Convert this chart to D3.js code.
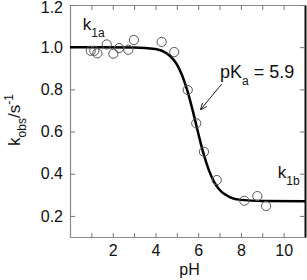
<!DOCTYPE html>
<html>
<head>
<meta charset="utf-8">
<script src="https://cdn.jsdelivr.net/npm/d3@7"></script>
<style>
body{margin:0;background:#fff;}
text{font-family:"Liberation Sans",Arial,sans-serif;fill:#111;}
</style>
</head>
<body>
<div class="content"></div>
<script>
const SVGWIDTH = 307;
const SVGHEIGHT = 280;
const MARGIN = {left:70,right:2,top:5,bottom:43};

// measured points (pH, kobs)
const pH_values = [0.97,1.14,1.28,1.72,2.03,2.30,2.73,2.99,4.29,4.88,5.51,5.91,6.27,6.87,8.16,8.77,9.18];
const kobs_values = [0.983,0.983,0.971,1.013,0.969,0.996,0.988,1.034,1.025,0.977,0.797,0.639,0.504,0.370,0.272,0.294,0.247];

// fitted titration curve
const fit_pH = [0,3,4,4.5,5,5.25,5.5,5.75,6,6.25,6.5,6.75,7,7.5,8,9,11];
const fit_kobs = [1.0,0.999,0.991,0.972,0.918,0.866,0.792,0.697,0.593,0.495,0.417,0.360,0.324,0.288,0.276,0.271,0.27];

const xTicks = [1,2,3,4,5,6,7,8,9,10];
const xLabels = [2,4,6,8,10];
const yTicks = [0.2,0.4,0.6,0.8,1.0,1.2];

let w = SVGWIDTH-MARGIN.left-MARGIN.right;
let h = SVGHEIGHT-MARGIN.top-MARGIN.bottom;

let svg = d3.select(".content").append("svg").attr("width",SVGWIDTH).attr("height",SVGHEIGHT);
let g = svg.append("g").attr("transform","translate("+MARGIN.left+","+MARGIN.top+")");

let x = d3.scaleLinear().domain([0,11]).range([0,w]);
let y = d3.scaleLinear().domain([0.1,1.2]).range([h,0]);

//axes, ticks pointing inwards
let axisB = g.append("g").attr("transform","translate(0,"+h+")")
    .call(d3.axisBottom(x).tickValues(xTicks).tickSizeInner(-4).tickSizeOuter(0).tickPadding(8)
        .tickFormat(d=>xLabels.includes(d)?d:""));
let axisT = g.append("g")
    .call(d3.axisTop(x).tickValues(xTicks).tickSizeInner(-5).tickSizeOuter(0).tickFormat(""));
let axisL = g.append("g")
    .call(d3.axisLeft(y).tickValues(yTicks).tickSizeInner(-5).tickSizeOuter(0).tickPadding(7)
        .tickFormat(d3.format(".1f")));
let axisR = g.append("g").attr("transform","translate("+w+",0)")
    .call(d3.axisRight(y).tickValues(yTicks).tickSizeInner(-5).tickSizeOuter(0).tickFormat(""));

g.selectAll(".domain").attr("stroke","#8a8a8a").attr("stroke-width",1.2);
g.selectAll(".tick line").attr("stroke","#777");
g.selectAll(".tick text").style("font-size","16px").attr("fill","#111");
axisR.select(".domain").attr("stroke","#111").attr("stroke-width",2);
// top label sits a little low so it is not clipped
axisL.selectAll(".tick text").filter(d=>d===1.2).attr("dy","0.45em");

//fit curve
let fitdata = fit_pH.map((d,i)=>({ph:d,k:fit_kobs[i]}));
g.append("path").datum(fitdata)
    .attr("d",d3.line().x(d=>x(d.ph)).y(d=>y(d.k)).curve(d3.curveMonotoneX))
    .attr("fill","none").attr("stroke","#000").attr("stroke-width",2.5);

//data points
g.selectAll("circle.pt")
    .data(pH_values.map((d,i)=>({ph:d,k:kobs_values[i]})))
    .join("circle")
    .attr("class","pt")
    .attr("cx",d=>x(d.ph))
    .attr("cy",d=>y(d.k))
    .attr("r",4.6)
    .attr("fill","none")
    .attr("stroke","#555")
    .attr("stroke-width",1);

//annotations
let k1a = g.append("text").attr("x",x(0.6)).attr("y",y(1.081)).style("font-size","17px");
k1a.append("tspan").text("k");
k1a.append("tspan").attr("dy",7).style("font-size","12px").text("1a");

let k1b = g.append("text").attr("x",x(9.73)).attr("y",y(0.38)).style("font-size","17px");
k1b.append("tspan").text("k");
k1b.append("tspan").attr("dy",7).style("font-size","12px").text("1b");

let pka = g.append("text").attr("x",x(7.02)).attr("y",y(0.856)).style("font-size","18px");
pka.append("tspan").text("pK");
pka.append("tspan").attr("dy",7).style("font-size","12px").text("a");
pka.append("tspan").attr("dy",-7).text(" = 5.9");

svg.append("defs").append("marker").attr("id","arrow")
    .attr("viewBox","0 0 10 10").attr("refX",9).attr("refY",5)
    .attr("markerWidth",7).attr("markerHeight",7).attr("orient","auto")
    .append("path").attr("d","M0,1 L10,5 L0,9").attr("fill","none").attr("stroke","#222").attr("stroke-width",1.4);
g.append("line")
    .attr("x1",x(7.1)).attr("y1",y(0.825))
    .attr("x2",x(6.12)).attr("y2",y(0.705))
    .attr("stroke","#222").attr("stroke-width",1)
    .attr("marker-end","url(#arrow)");

//axis titles
svg.append("text").attr("x",MARGIN.left+w/2+2).attr("y",SVGHEIGHT-5)
    .attr("text-anchor","middle").style("font-size","16px").text("pH");

let ylab = svg.append("text").attr("transform","translate(20,"+(MARGIN.top+h/2-1)+") rotate(-90)")
    .attr("text-anchor","middle").style("font-size","17px");
ylab.append("tspan").text("k");
ylab.append("tspan").attr("dy",6).style("font-size","12px").text("obs");
ylab.append("tspan").attr("dy",-6).text("/s");
ylab.append("tspan").attr("dy",-7).style("font-size","12px").text("-1");
</script>
</body>
</html>
